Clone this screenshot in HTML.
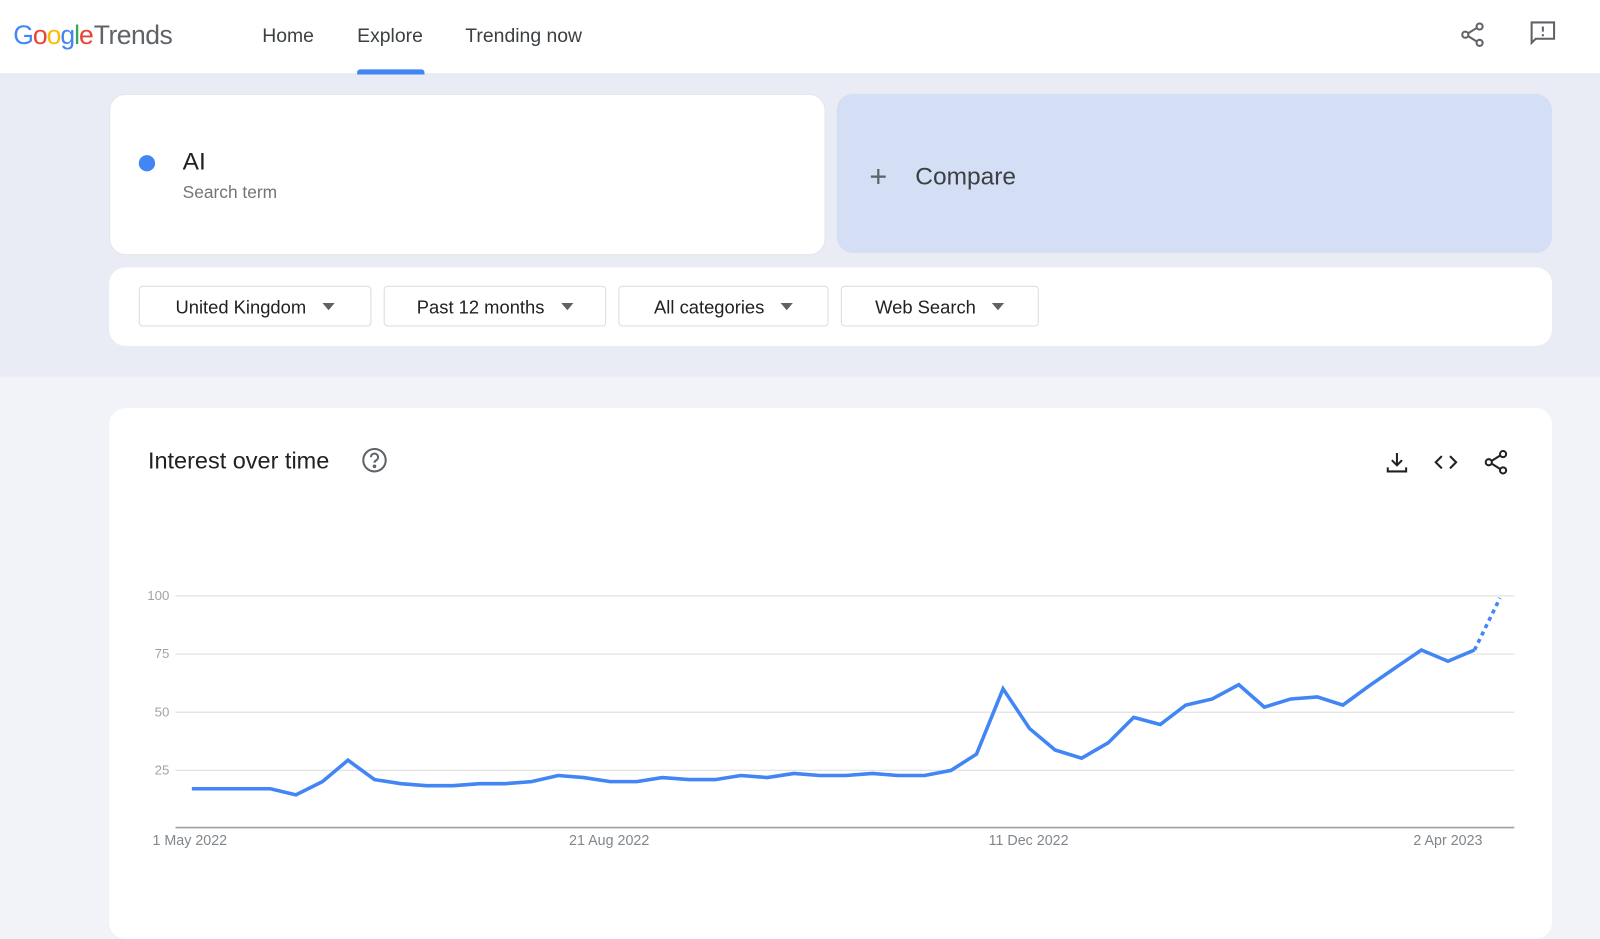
<!DOCTYPE html>
<html><head><meta charset="utf-8"><style>
html,body{margin:0;padding:0;width:1600px;height:913px;overflow:hidden;background:#f1f3f8;}
#w{position:absolute;left:0;top:0;width:1568px;height:895px;transform:scale(1.020408);transform-origin:0 0;font-family:"Liberation Sans",sans-serif;color:#3c4043;}
.a{position:absolute;}
.card{position:absolute;background:#fff;border-radius:16px;}
.dd{position:absolute;top:280px;height:40px;border:1px solid #dadce0;border-radius:4px;box-sizing:border-box;font-size:18px;color:#202124;line-height:40px;text-align:center;}
.tri{display:inline-block;width:0;height:0;border-left:6px solid transparent;border-right:6px solid transparent;border-top:7px solid #5f6368;margin-left:16px;vertical-align:middle;position:relative;top:-2px;}
.yl{position:absolute;left:120px;width:46px;text-align:right;font-size:13px;color:#a0a4aa;}
.xl{position:absolute;top:815px;font-size:14px;color:#80868b;width:140px;text-align:center;}
</style></head><body><div id="w">
<div class="a" style="left:0;top:0;width:1568px;height:72px;background:#fff;border-bottom:1px solid #e0e3ea;"></div>
<div class="a" style="left:0;top:73px;width:1568px;height:296px;background:#e9ecf5;"></div>
<div class="a" style="left:13px;top:19px;font-size:26px;letter-spacing:-1px;"><span style="color:#4285f4">G</span><span style="color:#ea4335">o</span><span style="color:#fbbc05">o</span><span style="color:#4285f4">g</span><span style="color:#34a853">l</span><span style="color:#ea4335">e</span><span style="color:#5f6368;letter-spacing:-0.5px;margin-left:1px">Trends</span></div>
<div class="a" style="left:257px;top:25px;font-size:19px;">Home</div>
<div class="a" style="left:350px;top:25px;font-size:19px;">Explore</div>
<div class="a" style="left:350px;top:68px;width:66px;height:5px;background:#4285f4;border-radius:3px 3px 0 0;"></div>
<div class="a" style="left:456px;top:25px;font-size:19px;">Trending now</div>
<svg class="a" style="left:1430px;top:20px" width="28" height="28" viewBox="0 0 28 28" fill="none" stroke="#5f6368" stroke-width="2"><circle cx="20" cy="6" r="3"/><circle cx="6" cy="14" r="3"/><circle cx="20" cy="22" r="3"/><path d="M9 12.5L17 7.5M9 15.5L17 20.5"/></svg>
<svg class="a" style="left:1498px;top:19px" width="28" height="28" viewBox="0 0 28 28" fill="none" stroke="#5f6368" stroke-width="2"><path d="M3 3H25V19H7L3 23Z"/><path d="M14 7V12M14 14.5V16.5"/></svg>

<div class="card" style="left:107px;top:92px;width:702px;height:158px;border:1px solid #e3e5ea;box-sizing:border-box;"></div>
<div class="a" style="left:136px;top:152px;width:16px;height:16px;border-radius:50%;background:#4285f4;"></div>
<div class="a" style="left:179px;top:145px;font-size:24px;color:#202124;">AI</div>
<div class="a" style="left:179px;top:179px;font-size:17px;color:#70757a;">Search term</div>
<div class="card" style="left:820px;top:92px;width:701px;height:156px;background:#d4dff5;"></div>
<div class="a" style="left:852px;top:157px;font-size:30px;color:#5f6368;font-weight:300;">+</div>
<div class="a" style="left:897px;top:160px;font-size:24px;">Compare</div>

<div class="card" style="left:107px;top:262px;width:1414px;height:77px;"></div>
<div class="dd" style="left:136px;width:228px;">United Kingdom<span class="tri"></span></div>
<div class="dd" style="left:376px;width:218px;">Past 12 months<span class="tri"></span></div>
<div class="dd" style="left:606px;width:206px;">All categories<span class="tri"></span></div>
<div class="dd" style="left:824px;width:194px;">Web Search<span class="tri"></span></div>

<div class="card" style="left:107px;top:400px;width:1414px;height:520px;"></div>
<div class="a" style="left:145px;top:438px;font-size:23px;color:#202124;">Interest over time</div>
<svg class="a" style="left:354px;top:438px" width="26" height="26" viewBox="0 0 26 26" fill="none" stroke="#5f6368" stroke-width="2"><circle cx="13" cy="13" r="11"/><path d="M9.5 10a3.5 3.5 0 1 1 5 3.2c-1 .5-1.5 1.2-1.5 2.3" /><circle cx="13" cy="19" r="0.8" fill="#5f6368"/></svg>
<svg class="a" style="left:1356px;top:440px" width="26" height="26" viewBox="0 0 26 26" fill="none" stroke="#202124" stroke-width="2"><path d="M13 4V16M8 11L13 16L18 11M4 18V22H22V18"/></svg>
<svg class="a" style="left:1404px;top:440px" width="26" height="26" viewBox="0 0 26 26" fill="none" stroke="#202124" stroke-width="2"><path d="M9 7L3 13L9 19M17 7L23 13L17 19"/></svg>
<svg class="a" style="left:1453px;top:439px" width="28" height="28" viewBox="0 0 28 28" fill="none" stroke="#202124" stroke-width="2"><circle cx="20" cy="6" r="3"/><circle cx="6" cy="14" r="3"/><circle cx="20" cy="22" r="3"/><path d="M9 12.5L17 7.5M9 15.5L17 20.5"/></svg>

<svg class="a" style="left:0;top:0" width="1568" height="895">
<g stroke="#e3e3e3" stroke-width="1.2"><line x1="172" y1="584" x2="1484" y2="584"/><line x1="172" y1="641" x2="1484" y2="641"/><line x1="172" y1="698" x2="1484" y2="698"/><line x1="172" y1="755" x2="1484" y2="755"/></g>
<line x1="172" y1="811" x2="1484" y2="811" stroke="#9aa0a6" stroke-width="1.5"/>
<polyline fill="none" stroke="#4285f4" stroke-width="3.5" stroke-linejoin="miter" points="188,773 214,773 239,773 265,773 290,779 316,766 341,745 367,764 393,768 418,770 444,770 470,768 495,768 521,766 547,760 572,762 598,766 624,766 649,762 675,764 701,764 726,760 752,762 778,758 803,760 829,760 855,758 880,760 906,760 932,755 957,739 983,675 1009,714 1034,735 1060,743 1086,728 1111,703 1137,710 1162,691 1188,685 1214,671 1239,693 1265,685 1291,683 1316,691 1342,672 1368,654 1393,637 1419,648 1445,637"/>
<polyline fill="none" stroke="#4285f4" stroke-width="3.5" stroke-dasharray="4,4" points="1445,637 1470,586"/>
</svg>
<div class="yl" style="top:576px;">100</div>
<div class="yl" style="top:633px;">75</div>
<div class="yl" style="top:690px;">50</div>
<div class="yl" style="top:747px;">25</div>
<div class="xl" style="left:116px;">1 May 2022</div>
<div class="xl" style="left:527px;">21 Aug 2022</div>
<div class="xl" style="left:938px;">11 Dec 2022</div>
<div class="xl" style="left:1349px;">2 Apr 2023</div>
</div></body></html>
